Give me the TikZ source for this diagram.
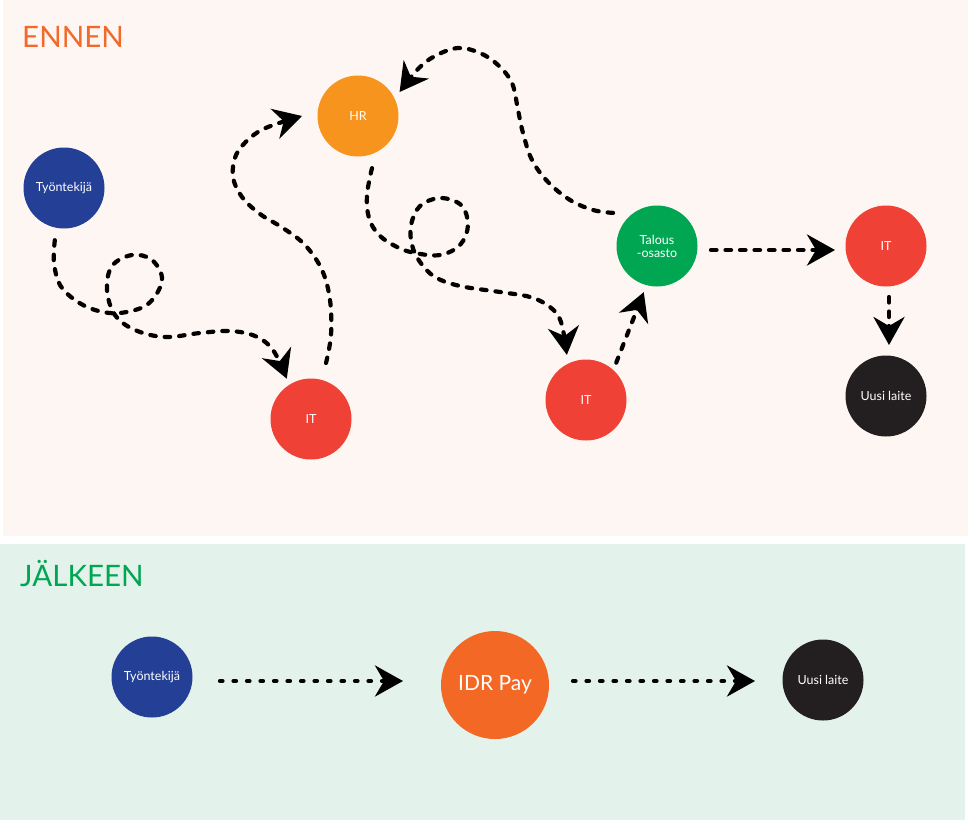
\documentclass[tikz,border=0pt]{standalone}
\usepackage{fontspec}
\setmainfont{Lato}
\usetikzlibrary{arrows.meta}
\definecolor{pinkbg}{HTML}{FEF6F2}
\definecolor{greenbg}{HTML}{E3F3EB}
\definecolor{cblue}{HTML}{233F96}
\definecolor{corange}{HTML}{F7941D}
\definecolor{cred}{HTML}{EF4136}
\definecolor{cgreen}{HTML}{00A651}
\definecolor{cblack}{HTML}{231F20}
\definecolor{cidr}{HTML}{F26824}
\definecolor{ctitle}{HTML}{F26A2B}
\tikzset{
  circ/.style={circle, draw=none, minimum size=81pt, inner sep=0pt, text=white, font=\fontsize{12.5}{15}\selectfont, align=center},
  flow/.style={line width=4.2pt, line cap=round, dash pattern=on 5.5pt off 9pt, -{Stealth[length=28pt,width=31pt,inset=9pt]}},
  flowb/.style={line width=4.2pt, line cap=round, dash pattern=on 2.5pt off 11pt, -{Stealth[length=28pt,width=31pt,inset=9pt]}},
  ttl/.style={anchor=base west, inner sep=0pt, font=\fontsize{29.5}{30}\selectfont}
}
\begin{document}
\begin{tikzpicture}[x=1pt,y=1pt]
\useasboundingbox (0,0) rectangle (968,-820);
\fill[white] (0,0) rectangle (968,-820);
\fill[pinkbg] (3,0) rectangle (968,-536);
\fill[greenbg] (0,-544) rectangle (965,-820);

\node[ttl, text=ctitle] (t1) at (22,-47) {ENNEN};
\node[ttl, text=cgreen] (t2) at (20,-586) {JÄLKEEN};

% top nodes
\node[circ, fill=cblue] (wk) at (64,-188) {Työntekijä};
\node[circ, fill=corange] (hr) at (358,-116) {HR};
\node[circ, fill=cred] (it1) at (311,-419) {IT};
\node[circ, fill=cred] (it2) at (586,-400) {IT};
\node[circ, fill=cgreen] (tal) at (657,-246) {Talous\\[-2pt]-osasto};
\node[circ, fill=cred] (it3) at (886,-246) {IT};
\node[circ, fill=cblack] (uu1) at (886,-396) {Uusi laite};

% bottom nodes
\node[circ, fill=cblue] (wk2) at (152,-677) {Työntekijä};
\node[circ, fill=cidr, minimum size=108pt, font=\fontsize{21}{24}\selectfont] (idr) at (495,-685) {IDR Pay};
\node[circ, fill=cblack] (uu2) at (823,-680) {Uusi laite};

% connectors top
\draw[flow] plot[smooth, tension=0.6] coordinates {
  ([shift={(260:53pt)}]wk.center) (54,-263) (60,-285) (75,-300) (95,-310) (120,-313)
  (148,-304) (162,-280) (152,-260) (132,-255) (112,-266) (107,-290) (115,-315)
  (135,-330) (165,-337) (200,-333) (230,-331) (255,-336) (273,-350)
  ([shift={(121:47pt)}]it1.center)};

\draw[flow] plot[smooth, tension=0.6] coordinates {
  ([shift={(75:58pt)}]it1.center) (331,-335) (330,-300) (322,-270) (305,-245)
  (283,-228) (260,-214) (242,-197) (233,-177) (236,-155) (250,-138) (268,-127)
  ([shift={(180:56pt)}]hr.center)};

\draw[flow] plot[smooth, tension=0.6] coordinates {
  ([shift={(143:55pt)}]tal.center) (593,-210) (570,-200) (548,-182) (532,-160)
  (523,-133) (518,-110) (512,-83) (498,-65) (480,-53) (458,-48) (435,-56) (418,-69)
  ([shift={(30:48pt)}]hr.center)};

\draw[flow] plot[smooth, tension=0.6] coordinates {
  ([shift={(285:54pt)}]hr.center) (367,-195) (369,-218) (379,-235) (397,-247) (415,-253)
  (440,-255) (460,-245) (468,-225) (461,-205) (440,-198) (420,-206) (411,-225)
  (412,-245) (420,-262) (435,-277) (460,-286) (500,-292) (530,-297) (550,-307) (561,-322)
  ([shift={(113:49pt)}]it2.center)};

\draw[flow] ([shift={(51:48pt)}]it2.center) -- ([shift={(254:48pt)}]tal.center);
\draw[flow] ([shift={(54,-4)}]tal.center) -- ([shift={(-51,-4)}]it3.center);
\draw[flow] ([shift={(3,-51)}]it3.center) -- ([shift={(3,51)}]uu1.center);

% connectors bottom
\draw[flowb] ([shift={(68,-4)}]wk2.center) -- ([shift={(-92,4)}]idr.center);
\draw[flowb] ([shift={(78,4)}]idr.center) -- ([shift={(-68,-1)}]uu2.center);
\end{tikzpicture}
\end{document}
